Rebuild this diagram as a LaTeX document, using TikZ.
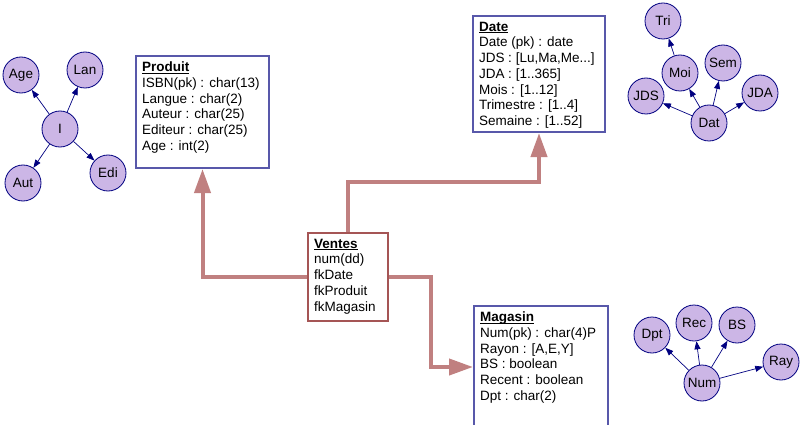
\documentclass[tikz,border=0pt]{standalone}
\usepackage{fontspec}
\setmainfont{Liberation Sans}
\usetikzlibrary{arrows.meta}
\definecolor{tblblue}{RGB}{88,88,170}
\definecolor{factred}{RGB}{165,85,85}
\definecolor{fkred}{RGB}{192,128,128}
\definecolor{attrfill}{RGB}{204,182,230}
\definecolor{attrline}{RGB}{0,0,128}
\newcommand{\dimfont}{\fontsize{13.5}{15.7}\selectfont}
\newcommand{\tbltext}[3]{\parbox[t][#1][t]{#2}{\raggedright #3}}
\newcommand{\tblname}[1]{\underline{\raisebox{0pt}[\height][0pt]{\textbf{#1}}}}
\tikzset{
  tbl/.style={draw=tblblue,line width=2pt,fill=white,anchor=north west,inner xsep=6pt,inner ysep=6pt},
  fact/.style={tbl,draw=factred},
  attr/.style={circle,draw=attrline,fill=attrfill,line width=0.8pt,minimum size=36pt,inner sep=0pt},
  dep/.style={attrline,line width=0.7pt,-{Triangle[length=8pt,width=6pt]}},
  fk/.style={fkred,line width=4pt,-{Triangle[length=24pt,width=16pt]}}
}
\begin{document}
\begin{tikzpicture}[x=1pt,y=-1pt,font=\dimfont]
  \useasboundingbox (0,0) rectangle (800,425);
  \clip (0,0) rectangle (800,425);
  \node[tbl] (produit) at (135,55) {\tbltext{100pt}{121pt}{\tblname{Produit}\\ISBN(pk) : char(13)\\Langue : char(2)\\Auteur : char(25)\\Editeur : char(25)\\Age : int(2)}};
  \node[tbl] (date) at (472,15) {\tbltext{104pt}{120pt}{\tblname{Date}\\Date (pk) : date\\JDS : [Lu,Ma,Me...]\\JDA : [1..365]\\Mois : [1..12]\\Trimestre : [1..4]\\Semaine : [1..52]}};
  \node[fact] (ventes) at (307,232) {\tbltext{76pt}{68pt}{\tblname{Ventes}\\num(dd)\\fkDate\\fkProduit\\fkMagasin}};
  \node[tbl] (magasin) at (473,305) {\tbltext{110pt}{122pt}{\tblname{Magasin}\\Num(pk) : char(4)P\\Rayon : [A,E,Y]\\BS : boolean\\Recent : boolean\\Dpt : char(2)}};
  \draw[fk] (ventes.west) -| (produit.south);
  \draw[fk] (ventes.north) -- ++(0,-50) -| (date.south);
  \draw[fk] (ventes.east) -- ++(42,0) |- (magasin.west);
  \node[attr] (age) at (21,75) {Age};
  \node[attr] (lan) at (85,70) {Lan};
  \node[attr] (i) at (60,129) {I};
  \node[attr] (aut) at (23,183) {Aut};
  \node[attr] (edi) at (108,173) {Edi};
  \draw[dep] (i) -- (age);
  \draw[dep] (i) -- (lan);
  \draw[dep] (i) -- (aut);
  \draw[dep] (i) -- (edi);
  \node[attr] (tri) at (663,21) {Tri};
  \node[attr] (moi) at (680,73) {Moi};
  \node[attr] (sem) at (723,63) {Sem};
  \node[attr] (jds) at (646,96) {JDS};
  \node[attr] (jda) at (760,93) {JDA};
  \node[attr] (dat) at (709,123) {Dat};
  \draw[dep] (moi) -- (tri);
  \draw[dep] (dat) -- (jds);
  \draw[dep] (dat) -- (moi);
  \draw[dep] (dat) -- (sem);
  \draw[dep] (dat) -- (jda);
  \node[attr] (dpt) at (652,335) {Dpt};
  \node[attr] (rec) at (694,323) {Rec};
  \node[attr] (bs) at (737,325) {BS};
  \node[attr] (ray) at (781,362) {Ray};
  \node[attr] (num) at (702,383) {Num};
  \draw[dep] (num) -- (dpt);
  \draw[dep] (num) -- (rec);
  \draw[dep] (num) -- (bs);
  \draw[dep] (num) -- (ray);
\end{tikzpicture}
\end{document}
